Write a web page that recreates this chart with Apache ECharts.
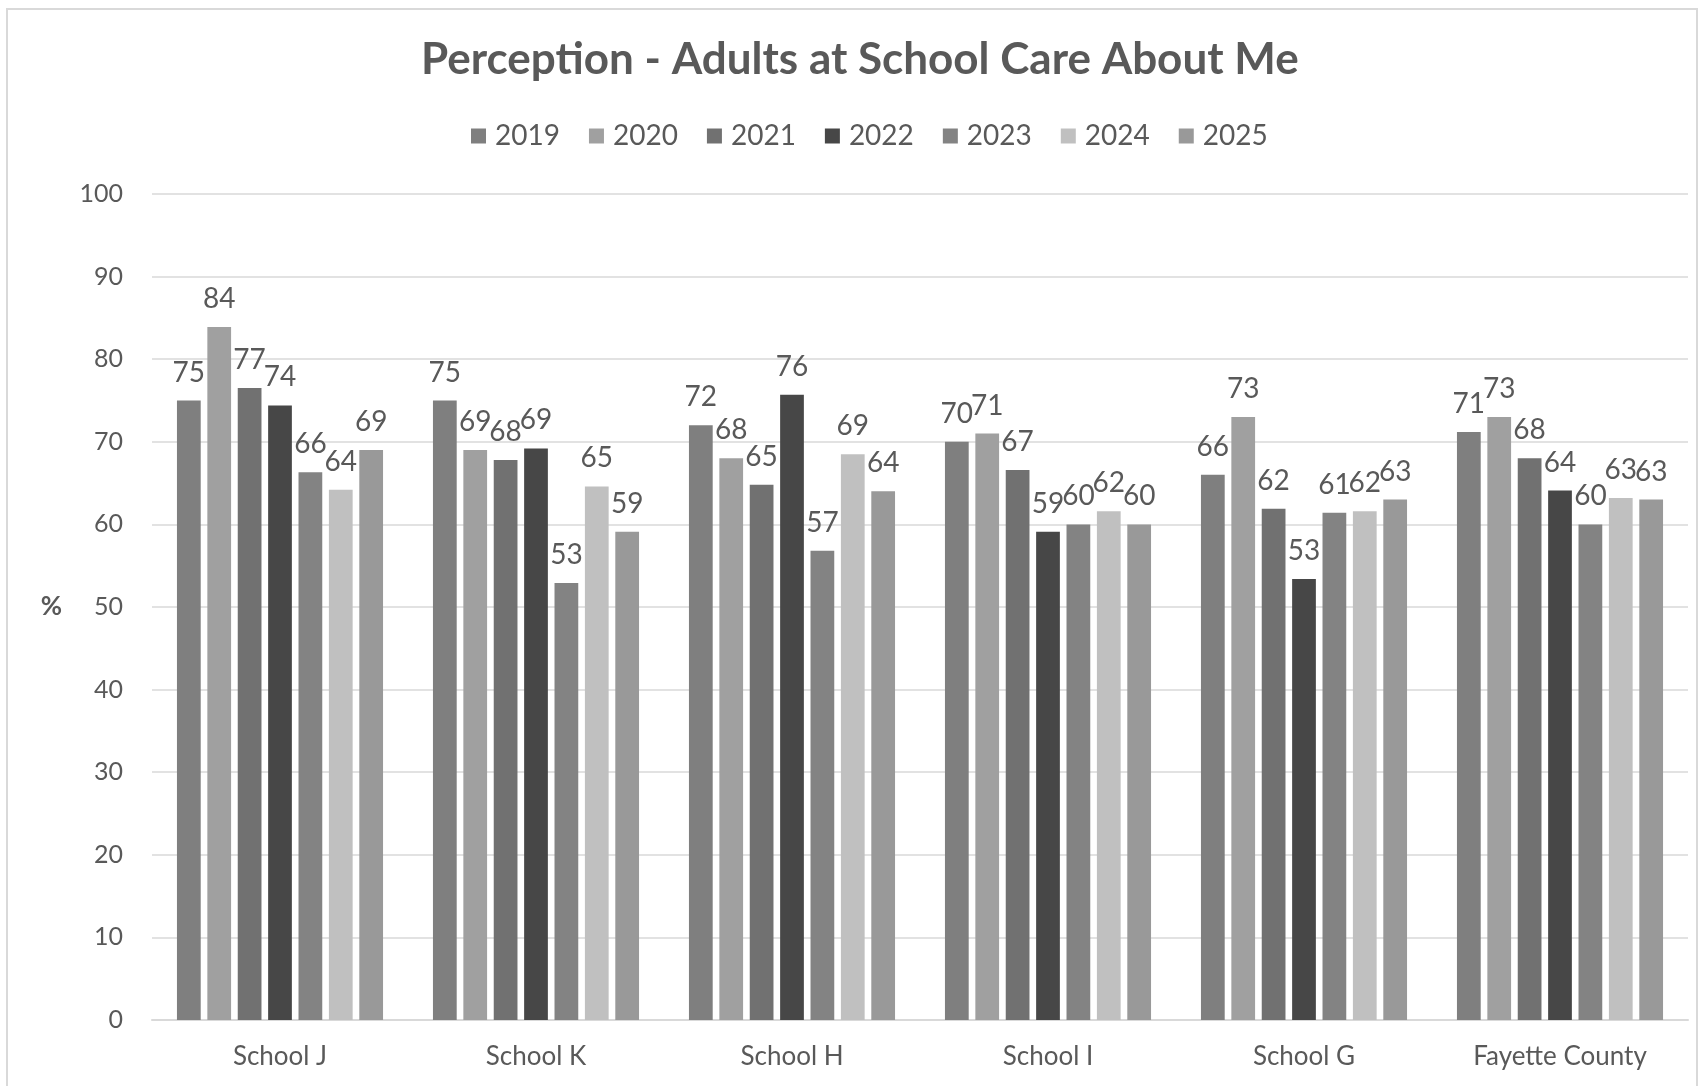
<!DOCTYPE html>
<html><head><meta charset="utf-8">
<script src="https://cdn.jsdelivr.net/npm/echarts@6/dist/echarts.min.js"></script>
<style>
html,body{margin:0;padding:0;background:#fff;}
#c{width:1699px;height:1086px;}
</style></head>
<body><div id="c"></div>
<script>
const categories = ['School J','School K','School H','School I','School G','Fayette County'];
const years = ['2019','2020','2021','2022','2023','2024','2025'];
const v2019 = [75.0, 75.0, 72.0, 70.0, 66.0, 71.2];
const v2020 = [83.9, 69.0, 68.0, 71.0, 73.0, 73.0];
const v2021 = [76.5, 67.8, 64.8, 66.6, 61.9, 68.0];
const v2022 = [74.4, 69.2, 75.7, 59.1, 53.4, 64.1];
const v2023 = [66.3, 52.9, 56.8, 60.0, 61.4, 60.0];
const v2024 = [64.2, 64.6, 68.5, 61.6, 61.6, 63.2];
const v2025 = [69.0, 59.1, 64.0, 60.0, 63.0, 63.0];
const colors = ['#7f7f7f','#a0a0a0','#717171','#474747','#838383','#c0c0c0','#999999'];
const allVals = [v2019,v2020,v2021,v2022,v2023,v2024,v2025];
const yTicksMax = 100, yTickStep = 10;

const font = 'Lato, "Open Sans", sans-serif';
const chart = echarts.init(document.getElementById('c'));
chart.setOption({
  animation:false,
  backgroundColor:'#fff',
  graphic:[{type:'rect',shape:{x:7,y:9,width:1690,height:1090},style:{fill:'none',stroke:'#d9d9d9',lineWidth:2},silent:true}],
  title:{text:'Perception - Adults at School Care About Me',left:416,top:33,
    textStyle:{fontFamily:font,fontWeight:'bold',fontSize:44,color:'#595959'}},
  legend:{data:years,top:117,left:466,itemWidth:15,itemHeight:15,itemGap:29,icon:'rect',
    textStyle:{fontFamily:font,fontSize:28,color:'#595959',padding:[0,0,0,4]}},
  grid:{left:152,right:11,top:194,bottom:66,containLabel:false},
  xAxis:{type:'category',data:categories,
    axisLine:{lineStyle:{color:'#d9d9d9',width:2}},axisTick:{show:false},
    axisLabel:{fontFamily:font,fontSize:26,color:'#595959',margin:24}},
  yAxis:{type:'value',min:0,max:yTicksMax,interval:yTickStep,name:'%',nameLocation:'middle',nameGap:90,nameRotate:0,
    nameTextStyle:{fontFamily:font,fontSize:26,fontWeight:'bold',color:'#595959'},
    splitLine:{lineStyle:{color:'#d9d9d9',width:1.5}},axisLine:{show:false},axisTick:{show:false},
    axisLabel:{fontFamily:font,fontSize:25,color:'#595959',margin:29}},
  series: years.map((y,i)=>({
    name:y,type:'bar',data:allVals[i],barGap:'28%',barCategoryGap:'19.5%',
    itemStyle:{color:colors[i]},
    label:{show:true,position:'top',distance:14,fontFamily:font,fontSize:28,color:'#595959',
      formatter:p=>Math.round(p.value)}
  }))
});
</script></body></html>
